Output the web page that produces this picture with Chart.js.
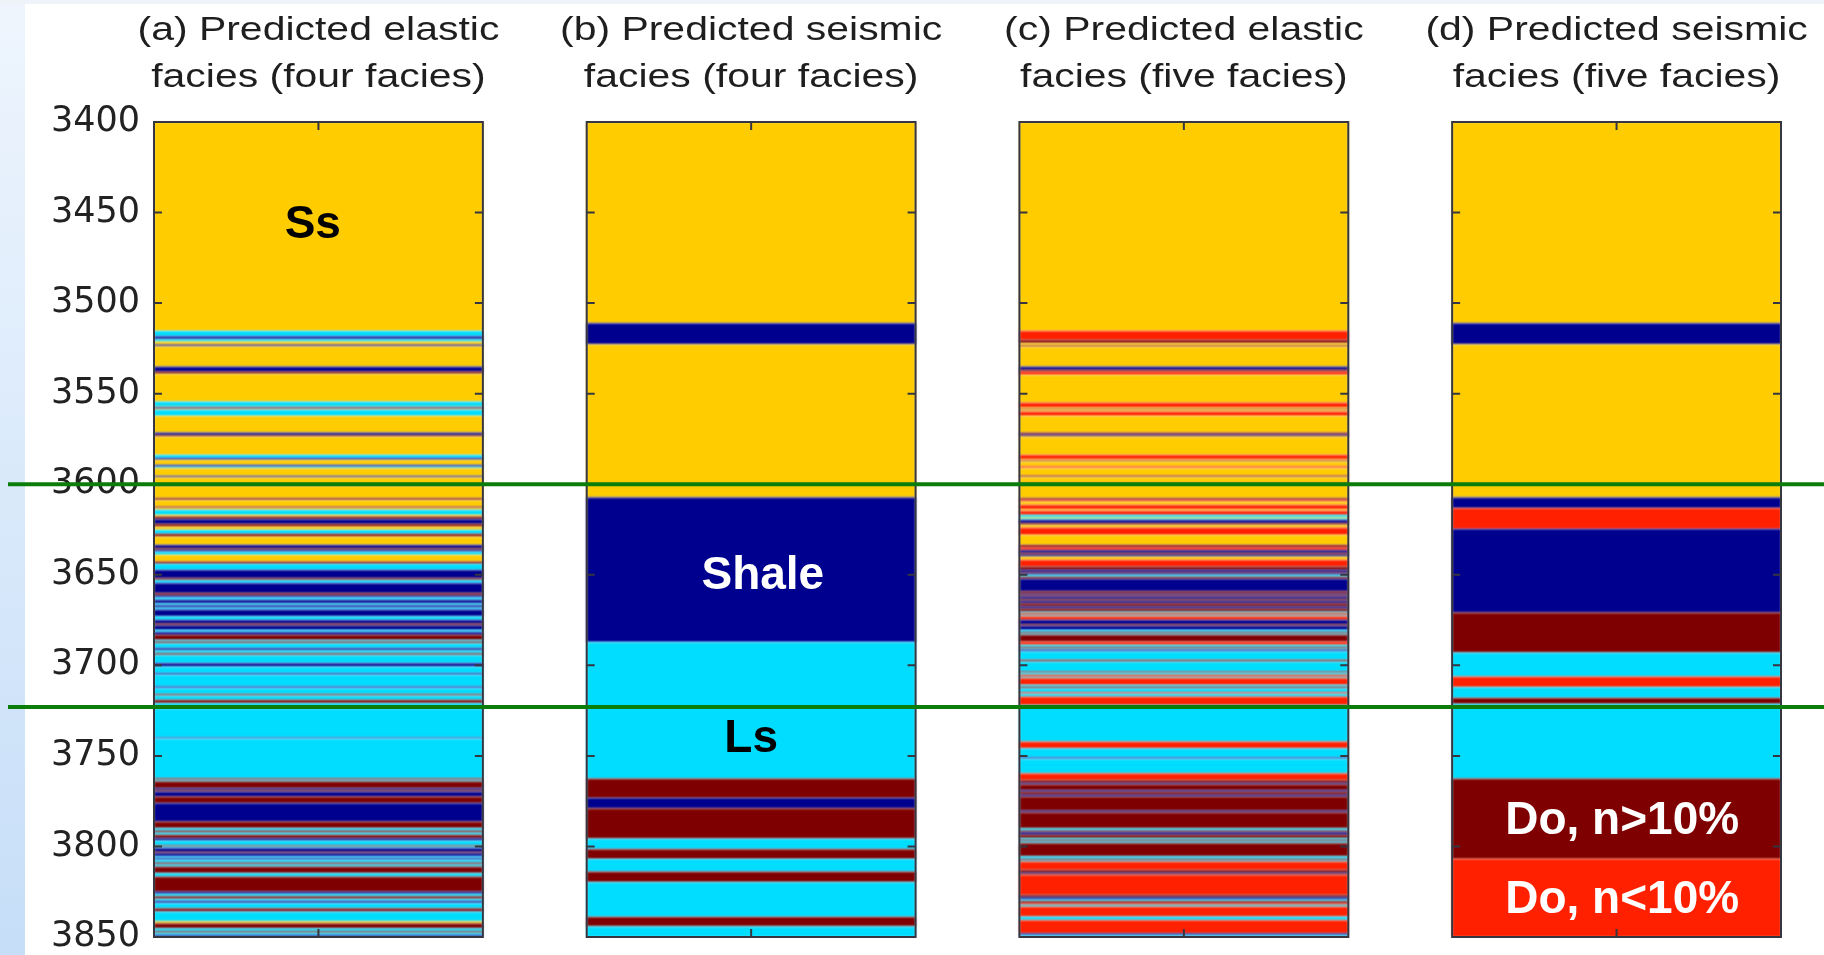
<!DOCTYPE html>
<html>
<head>
<meta charset="utf-8">
<script src="https://cdn.jsdelivr.net/npm/chart.js@4.4.1/dist/chart.umd.min.js"></script>
<style>
  html, body { margin: 0; padding: 0; background: #ffffff; width: 1824px; height: 955px; overflow: hidden; }
  #edge { position: absolute; left: 0; top: 0; width: 25px; height: 955px; background: linear-gradient(#eef5fd, #c6def8); }
  #topband { position: absolute; left: 0; top: 0; width: 1824px; height: 4px; background: #eef3f9; }
  canvas { position: absolute; left: 0; top: 0; }
</style>
</head>
<body>
<div id="edge"></div>
<div id="topband"></div>
<canvas id="facies" width="1824" height="955"></canvas>
<script>
// Facies codes: 0 Ss, 1 Shale, 2 Ls, 3 Do n>10%, 4 Do n<10%
const faciesNames = ['Ss', 'Shale', 'Ls', 'Do, n>10%', 'Do, n<10%'];
const faciesColors = ['#ffcc00', '#00008f', '#00ddff', '#7f0000', '#ff2000'];

// Depth range (m) and depth ticks
const depthMin = 3400;
const depthMax = 3850;
const depthStep = 50;

// Zone boundaries (m)
const boundaryDepths = [3600, 3723];

const panelTitles = [
  ['(a) Predicted elastic', 'facies (four facies)'],
  ['(b) Predicted seismic', 'facies (four facies)'],
  ['(c) Predicted elastic', 'facies (five facies)'],
  ['(d) Predicted seismic', 'facies (five facies)']
];

// Each log: [top depth (m), facies code]; a layer runs down to the next top
const elasticFour = [
  [3400,0],[3515.4,2],[3518.5,1],[3520.0,2],[3521.3,0],[3523.0,1],[3524.0,0],[3535.1,1],[3537.9,3],[3539.2,0],
  [3554.4,2],[3557.2,0],[3557.6,1],[3558.4,0],[3559.0,2],[3562.3,0],[3571.6,1],[3573.0,3],[3573.8,0],[3583.9,2],
  [3585.7,1],[3586.6,0],[3589.4,1],[3590.3,2],[3591.2,0],[3595.5,1],[3596.3,0],[3600.0,1],[3600.8,0],[3607.8,3],
  [3608.8,0],[3612.4,3],[3613.2,0],[3614.2,2],[3617.0,0],[3618.0,3],[3619.4,1],[3622.0,3],[3623.5,0],[3625.3,2],
  [3627.5,3],[3629.0,0],[3633.6,1],[3635.5,3],[3636.3,1],[3637.3,2],[3639.1,0],[3642.8,3],[3644.0,2],[3647.4,1],
  [3651.9,3],[3653.0,2],[3654.7,1],[3660.2,3],[3661.5,1],[3662.5,2],[3663.9,1],[3665.8,2],[3667.0,1],[3668.2,2],
  [3669.3,1],[3673.1,2],[3675.0,1],[3677.0,3],[3678.0,1],[3680.5,2],[3681.8,1],[3683.3,3],[3686.0,2],[3687.0,3],
  [3687.9,2],[3690.6,1],[3691.8,2],[3693.4,3],[3694.5,2],[3698.9,1],[3700.8,2],[3704.5,1],[3705.3,2],[3711.8,1],
  [3712.6,2],[3716.0,3],[3716.8,2],[3719.2,3],[3721.0,2],[3723.0,1],[3723.8,2],[3740.0,1],[3740.6,2],[3762.5,3],
  [3763.3,2],[3764.2,3],[3767.9,1],[3769.0,3],[3769.8,1],[3772.5,3],[3776.2,1],[3786.3,3],[3790.0,2],[3791.3,3],
  [3792.4,2],[3793.7,3],[3795.5,1],[3796.8,2],[3799.5,3],[3800.2,2],[3801.0,1],[3803.0,3],[3803.8,1],[3805.6,2],
  [3806.6,1],[3807.5,2],[3809.0,3],[3810.0,2],[3811.2,3],[3814.8,2],[3816.7,3],[3825.0,1],[3826.3,2],[3827.7,3],
  [3829.0,2],[3830.2,1],[3831.4,2],[3834.2,3],[3836.0,2],[3841.5,0],[3842.5,3],[3845.3,2],[3847.0,3],[3847.8,2],
  [3849.0,1]
];

const seismicFour = [
  [3400,0],[3511.1,1],[3522.8,0],[3607.3,1],[3687.2,2],[3762.6,3],[3773.2,1],[3779.0,3],[3795.8,2],[3801.6,3],
  [3806.9,2],[3814.0,3],[3819.8,2],[3838.9,3],[3844.2,2]
];

const elasticFive = [
  [3400,0],[3515.4,4],[3520.4,3],[3522.2,0],[3523.5,3],[3524.3,0],[3535.1,1],[3537.0,3],[3537.9,4],[3539.7,0],
  [3555.0,4],[3557.8,0],[3558.6,3],[3559.2,0],[3560.0,4],[3562.3,0],[3571.6,3],[3572.6,1],[3573.2,3],[3573.8,0],
  [3583.9,4],[3586.3,0],[3587.0,3],[3587.6,0],[3590.2,4],[3591.2,0],[3595.3,3],[3596.1,0],[3599.5,3],[3600.3,0],
  [3607.8,3],[3608.7,4],[3609.7,0],[3611.5,4],[3614.0,0],[3614.8,4],[3617.0,2],[3618.4,0],[3619.0,2],[3619.8,1],
  [3621.6,3],[3622.5,0],[3624.0,4],[3628.1,0],[3633.6,3],[3635.0,4],[3636.4,1],[3638.0,3],[3639.0,1],[3640.0,0],
  [3641.8,4],[3645.5,3],[3647.4,1],[3648.8,3],[3649.5,1],[3650.1,2],[3651.2,3],[3652.3,1],[3659.3,3],[3660.5,1],
  [3661.3,3],[3662.1,1],[3663.5,3],[3664.5,1],[3665.8,3],[3667.5,1],[3668.7,3],[3670.4,2],[3671.3,4],[3672.3,2],
  [3673.1,4],[3675.0,1],[3677.5,3],[3678.3,1],[3680.5,2],[3681.8,3],[3682.5,2],[3683.3,3],[3687.0,4],[3688.8,2],
  [3690.0,3],[3690.8,2],[3691.6,1],[3692.4,2],[3697.1,3],[3698.0,2],[3703.5,3],[3704.3,2],[3705.4,4],[3706.5,2],
  [3707.2,4],[3710.9,2],[3712.0,3],[3712.8,2],[3715.0,4],[3715.8,2],[3717.3,4],[3722.0,2],[3742.2,4],[3745.9,2],
  [3751.0,1],[3751.7,2],[3759.7,4],[3763.4,3],[3765.0,1],[3765.8,3],[3769.0,1],[3770.0,3],[3771.5,1],[3772.6,3],
  [3780.3,1],[3781.2,3],[3790.1,2],[3791.3,3],[3792.3,1],[3793.7,3],[3795.5,2],[3796.5,3],[3797.3,2],[3798.3,3],
  [3805.6,2],[3807.0,3],[3807.7,2],[3808.4,4],[3813.0,3],[3814.5,1],[3815.2,3],[3815.8,4],[3826.8,3],[3828.0,1],
  [3829.3,2],[3830.3,3],[3831.5,4],[3832.3,2],[3833.3,4],[3838.8,2],[3840.7,4],[3848.0,1],[3849.0,2]
];

const seismicFive = [
  [3400,0],[3511.1,1],[3522.8,0],[3607.3,1],[3613.2,4],[3624.7,1],[3671.0,3],[3693.0,2],[3706.3,4],[3712.1,2],
  [3718.0,3],[3721.4,2],[3762.6,3],[3806.9,4]
];

const panelLogs = [elasticFour, seismicFour, elasticFive, seismicFive];
const panelIndex = [0, 1, 2, 3];

// In-panel facies annotations: [text, panel, depth, nudge in panel units, colour]
const faciesLabels = [
  ['Ss', 0, 3455.2, -0.013, '#000000'],
  ['Shale', 1, 3649.0, 0.027, '#ffffff'],
  ['Ls', 1, 3739.0, 0.0, '#000000'],
  ['Do, n>10%', 3, 3783.8, 0.013, '#ffffff'],
  ['Do, n<10%', 3, 3827.4, 0.013, '#ffffff']
];

const halfPanel = 0.38;

function layers(log, panel) {
  return log.map(([top, code], i) => ({
    x: panel,
    y: [top, i + 1 < log.length ? log[i + 1][0] : depthMax],
    f: code
  }));
}

const datasets = panelLogs.map((log, p) => ({
  label: panelTitles[p].join(' '),
  data: layers(log, p),
  backgroundColor: (ctx) => faciesColors[ctx.raw ? ctx.raw.f : 0],
  borderWidth: 0,
  grouped: false,
  categoryPercentage: 1,
  barPercentage: halfPanel * 2
}));

const panelDecor = {
  id: 'panelDecor',
  beforeDatasetsDraw(chart) {
    // soften the thin layer boundaries slightly, as in a resampled log image
    chart.ctx.save();
    chart.ctx.filter = 'blur(0.9px)';
  },
  afterDatasetsDraw(chart) {
    const { ctx, scales: { x, y } } = chart;
    ctx.restore();
    const top = y.getPixelForValue(depthMin);
    const bottom = y.getPixelForValue(depthMax);
    ctx.save();

    // panel frames with inward tick marks
    panelTitles.forEach((title, i) => {
      const l = x.getPixelForValue(i - halfPanel);
      const r = x.getPixelForValue(i + halfPanel);
      const c = x.getPixelForValue(i);
      ctx.strokeStyle = '#363640';
      ctx.lineWidth = 2;
      ctx.strokeRect(l, top, r - l, bottom - top);
      ctx.beginPath();
      y.ticks.forEach(tk => {
        const py = y.getPixelForValue(tk.value);
        ctx.moveTo(l, py); ctx.lineTo(l + 8, py);
        ctx.moveTo(r, py); ctx.lineTo(r - 8, py);
      });
      ctx.moveTo(c, top); ctx.lineTo(c, top + 8);
      ctx.moveTo(c, bottom); ctx.lineTo(c, bottom - 8);
      ctx.stroke();

      // two-line panel title, widened horizontally
      ctx.fillStyle = '#1e1e1e';
      ctx.font = '32.5px "Liberation Sans", Arial, sans-serif';
      ctx.textAlign = 'center';
      ctx.textBaseline = 'alphabetic';
      [[title[0], top - 82], [title[1], top - 35]].forEach(([txt, by]) => {
        ctx.save();
        ctx.translate(c, by);
        ctx.scale(1.26, 1);
        ctx.fillText(txt, 0, 0);
        ctx.restore();
      });
    });

    // zone boundaries across the whole figure
    ctx.strokeStyle = '#0b7d0b';
    ctx.lineWidth = 4;
    boundaryDepths.forEach(d => {
      const py = y.getPixelForValue(d);
      ctx.beginPath();
      ctx.moveTo(8, py);
      ctx.lineTo(chart.width, py);
      ctx.stroke();
    });

    // facies annotations
    ctx.font = 'bold 46px "Liberation Sans", Arial, sans-serif';
    ctx.textAlign = 'center';
    ctx.textBaseline = 'alphabetic';
    faciesLabels.forEach(([txt, panel, depth, nudge, color]) => {
      ctx.fillStyle = color;
      ctx.fillText(txt, x.getPixelForValue(panel + nudge), y.getPixelForValue(depth) + 46 * 0.358);
    });

    ctx.restore();
  }
};

new Chart(document.getElementById('facies'), {
  type: 'bar',
  data: { datasets },
  options: {
    responsive: false,
    animation: false,
    devicePixelRatio: 1,
    events: [],
    layout: { padding: { top: 122, bottom: 18, left: 0, right: 43 } },
    plugins: { legend: { display: false }, tooltip: { enabled: false } },
    scales: {
      x: {
        type: 'linear',
        min: -halfPanel,
        max: 3 + halfPanel,
        bounds: 'data',
        offset: false,
        display: false,
        grid: { offset: false },
        afterBuildTicks(scale) {
          scale.ticks = panelIndex.map(v => ({ value: v }));
        }
      },
      y: {
        type: 'linear',
        reverse: true,
        min: depthMin,
        max: depthMax,
        grid: { display: false, drawTicks: false },
        border: { display: false },
        ticks: {
          stepSize: depthStep,
          padding: 14,
          color: '#222222',
          font: { family: '"DejaVu Sans", sans-serif', size: 35, lineHeight: 1 },
          callback: (v) => String(v)
        },
        afterFit(scale) {
          scale.width = 154;
          scale.paddingTop = 0;
          scale.paddingBottom = 0;
        }
      }
    }
  },
  plugins: [panelDecor]
});
</script>
</body>
</html>
